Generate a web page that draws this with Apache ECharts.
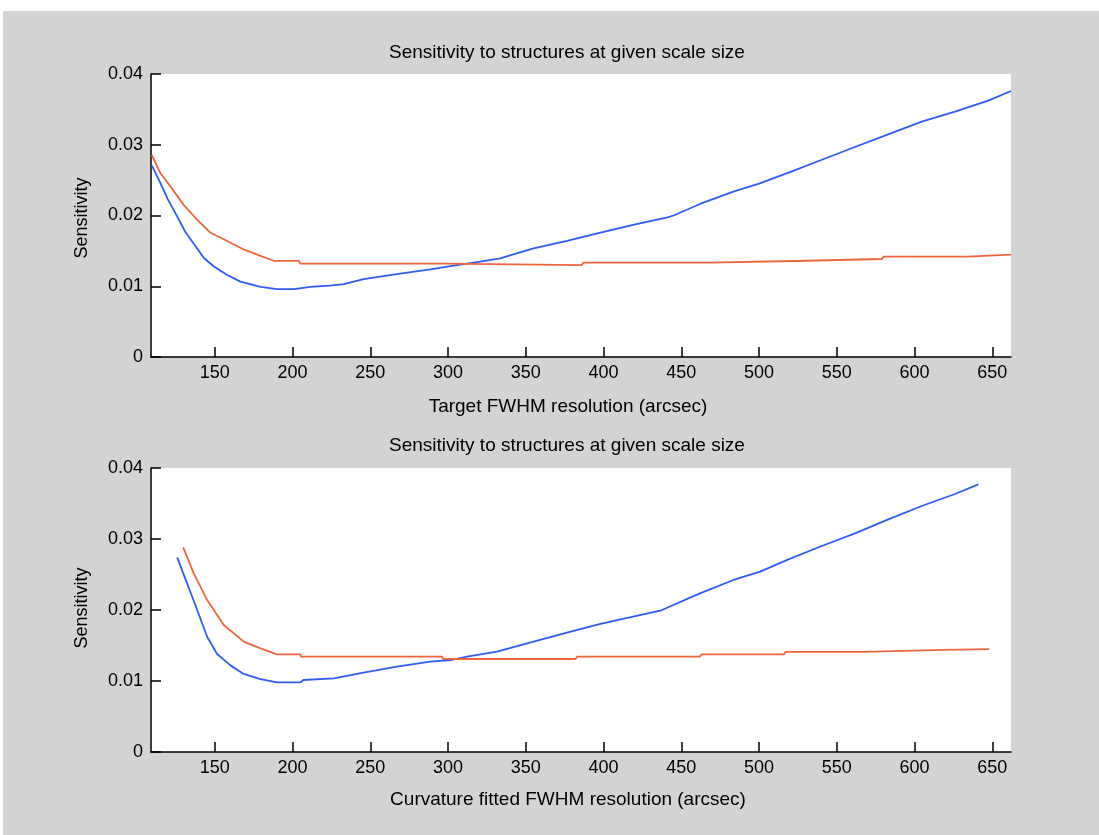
<!DOCTYPE html>
<html>
<head>
<meta charset="utf-8">
<script src="https://cdn.jsdelivr.net/npm/echarts@6/dist/echarts.min.js"></script>
<style>
html,body{margin:0;padding:0;background:#ffffff;}
#chart{width:1099px;height:835px;}
</style>
</head>
<body>
<div id="chart"></div>
<script>
// ---- data ----
const titleText = 'Sensitivity to structures at given scale size';
const xLabelTop = 'Target FWHM resolution (arcsec)';
const xLabelBottom = 'Curvature fitted FWHM resolution (arcsec)';
const yLabel = 'Sensitivity';
const xTicks = [150, 200, 250, 300, 350, 400, 450, 500, 550, 600, 650];
const yTicks = [0, 0.01, 0.02, 0.03, 0.04];

// top panel, blue
const topBlueX = [109.5,115,120,126,131,136.5,143,149.5,158,166.5,179.5,190,201,211.5,224,233,245.7,267,288.6,303.6,320.7,333.6,342,355,376.5,398,419,441,445,462,483.5,500,519,540,562,583,604.6,626,647.4,662];
const topBlueY = [0.0271,0.0246,0.0222,0.0198,0.0177,0.0160,0.0140,0.0128,0.0116,0.01065,0.0099,0.0096,0.0096,0.0099,0.0101,0.0103,0.0110,0.0117,0.0124,0.0129,0.01347,0.01395,0.0145,0.01536,0.0164,0.01757,0.01866,0.01974,0.0200,0.02163,0.02337,0.0245,0.02605,0.02784,0.02972,0.03147,0.03326,0.03467,0.03623,0.0376];
// top panel, red
const topRedX = [109.5,115,121.5,130,138.7,147,158,168.6,179.4,188,204,205,298,299,386,387,468,469,523,524,579,580,634,635,662];
const topRedY = [0.02855,0.0260,0.0241,0.0215,0.0194,0.0176,0.0164,0.0152,0.0143,0.0136,0.0136,0.0132,0.0132,0.0130,0.0130,0.01333,0.01333,0.01357,0.01357,0.01385,0.01385,0.01418,0.01418,0.01446,0.01446];
// bottom panel, blue
const botBlueX = [125.8,132.2,138.7,145.1,151.5,160.1,168.6,179.4,190,205,207,226.5,245.7,267.1,288.6,302.5,312.2,331.5,355,376.5,398,419,436.4,462,483.5,500.7,518.9,540.3,561.7,583.1,604.6,626,641];
const botBlueY = [0.02742,0.02376,0.0200,0.01624,0.0138,0.0122,0.0110,0.01025,0.0098,0.0098,0.01014,0.01038,0.01117,0.01202,0.01272,0.01296,0.01343,0.01413,0.01554,0.0168,0.01803,0.01906,0.0199,0.02235,0.02423,0.0254,0.02714,0.02901,0.0308,0.03277,0.03465,0.03634,0.0377];
// bottom panel, red
const botRedX = [129.7,136.5,145.1,155.8,168.6,179.4,190,205,205.5,296,297,382,383,462,463,516,517,567.7,568,619,620,648];
const botRedY = [0.02883,0.02517,0.0214,0.01789,0.01554,0.0146,0.01376,0.01376,0.01343,0.01343,0.0131,0.0131,0.01343,0.01343,0.01376,0.01376,0.01409,0.01409,0.01437,0.01437,0.0145,0.0145];

// ---- build ----
const zip = (xs, ys) => xs.map((x, i) => [x, ys[i]]);
const FONT = 'Liberation Sans, Arial, sans-serif';
const BLUE = '#2f5cf6';
const RED = '#f0643c';

function xAxisCfg(gridIndex) {
  return {
    type: 'value', gridIndex, min: 109, max: 662,
    axisLine: {show: true, lineStyle: {color: '#000', width: 1.5}},
    axisTick: {show: true, inside: true, length: 10, customValues: xTicks, lineStyle: {color: '#000', width: 1.5}},
    axisLabel: {customValues: xTicks, color: '#000', fontSize: 18, fontFamily: FONT, margin: 7},
    splitLine: {show: false}
  };
}
function yAxisCfg(gridIndex) {
  return {
    type: 'value', gridIndex, min: 0, max: 0.04, interval: 0.01,
    axisLine: {show: true, onZero: false, lineStyle: {color: '#000', width: 1.5}},
    axisTick: {show: true, inside: true, length: 10, lineStyle: {color: '#000', width: 1.5}},
    axisLabel: {color: '#000', fontSize: 18, fontFamily: FONT, margin: 8,
      formatter: v => (v === 0 ? '0' : String(+v.toFixed(2)))},
    splitLine: {show: false}
  };
}
function line(data, color, xi, yi) {
  return {type: 'line', data, xAxisIndex: xi, yAxisIndex: yi, symbol: 'none',
    lineStyle: {color, width: 1.8}, silent: true};
}
function txt(text, x, y, size, rot) {
  return {type: 'text', x, y, rotation: rot || 0,
    style: {text, fontSize: size, fontFamily: FONT, fill: '#000', align: 'center', verticalAlign: 'middle'}};
}

const chart = echarts.init(document.getElementById('chart'), null, {renderer: 'canvas'});
chart.setOption({
  animation: false,
  backgroundColor: '#d3d3d3',
  grid: [
    {left: 151, top: 74, width: 860, height: 283, show: true, backgroundColor: '#ffffff', borderWidth: 0},
    {left: 151, top: 468, width: 860, height: 284, show: true, backgroundColor: '#ffffff', borderWidth: 0}
  ],
  xAxis: [xAxisCfg(0), xAxisCfg(1)],
  yAxis: [yAxisCfg(0), yAxisCfg(1)],
  series: [
    line(zip(topBlueX, topBlueY), BLUE, 0, 0),
    line(zip(topRedX, topRedY), RED, 0, 0),
    line(zip(botBlueX, botBlueY), BLUE, 1, 1),
    line(zip(botRedX, botRedY), RED, 1, 1)
  ],
  graphic: [
    {type: 'rect', shape: {x: 0, y: 0, width: 1099, height: 11}, style: {fill: '#ffffff'}},
    {type: 'rect', shape: {x: 0, y: 0, width: 3, height: 835}, style: {fill: '#ffffff'}},
    txt(titleText, 567, 53, 19),
    txt(titleText, 567, 446, 19),
    txt(xLabelTop, 568, 407, 19),
    txt(xLabelBottom, 568, 800, 19),
    txt(yLabel, 82, 218, 18, Math.PI / 2),
    txt(yLabel, 82, 608, 18, Math.PI / 2)
  ]
});
</script>
</body>
</html>
